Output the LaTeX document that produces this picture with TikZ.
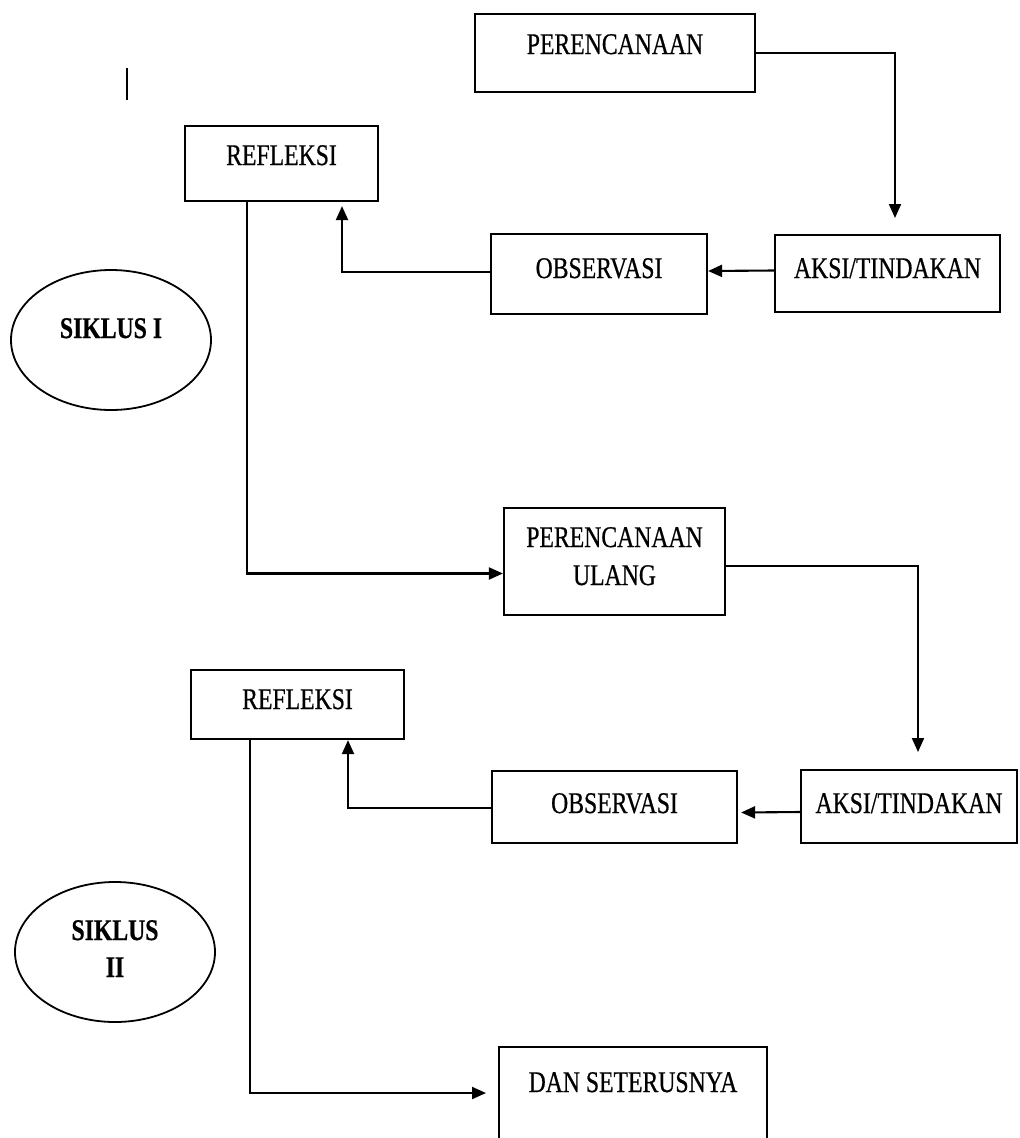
\documentclass[tikz,border=0pt]{standalone}
\usepackage{fontspec}
\setmainfont{Liberation Serif}
\newfontfamily\condfont[FakeStretch=0.79,FakeBold=0.6]{Liberation Serif}
\usetikzlibrary{arrows.meta,shapes.geometric,calc}
\begin{document}
\begin{tikzpicture}[x=1pt,y=-1pt,
  box/.style={draw, line width=2.2pt, rectangle, inner sep=0pt},
  lbl/.style={font=\condfont\fontsize{30}{34}\selectfont, text height=20pt, text depth=0pt, inner sep=0pt},
  blbl/.style={lbl, font=\condfont\bfseries\fontsize{30}{34}\selectfont},
  conn/.style={line width=2.1pt, -{Triangle[length=14pt,width=12pt]}},
  oval/.style={draw, ellipse, line width=1.8pt, minimum width=200pt, minimum height=140pt, inner sep=0pt}]
\useasboundingbox (0,0) rectangle (1020,1138);
\fill[white] (0,0) rectangle (1020,1138);

% stray mark
\draw[line width=2pt] (127,68) -- (127,100);

% boxes
\node[box, minimum width=280pt, minimum height=78pt] (p1) at (615,53) {};
\node[box, minimum width=193pt, minimum height=75pt] (r1) at (281.5,163.5) {};
\node[box, minimum width=216pt, minimum height=80pt] (o1) at (599,274) {};
\node[box, minimum width=225pt, minimum height=77pt] (a1) at (887.5,273.5) {};
\node[box, minimum width=221pt, minimum height=107pt] (pu) at (614.5,561.5) {};
\node[box, minimum width=213pt, minimum height=69pt] (r2) at (297.5,704.5) {};
\node[box, minimum width=245pt, minimum height=72pt] (o2) at (614.5,807) {};
\node[box, minimum width=216pt, minimum height=73pt] (a2) at (909,806.5) {};
\node[box, minimum width=268pt, minimum height=103pt] (d) at (633,1098.5) {};
\node[oval] (e1) at (111,340) {};
\node[oval] (e2) at (115,952) {};

% texts
\node[lbl] (p1t) at (615,44) {PERENCANAAN};
\node[lbl] (r1t) at (281.5,155) {REFLEKSI};
\node[lbl] (o1t) at (599,268) {OBSERVASI};
\node[lbl] (a1t) at (887.5,268) {AKSI/TINDAKAN};
\node[lbl] (put1) at (614.5,537) {PERENCANAAN};
\node[lbl] (put2) at (614.5,575) {ULANG};
\node[lbl] (r2t) at (297.5,699) {REFLEKSI};
\node[lbl] (o2t) at (614.5,803) {OBSERVASI};
\node[lbl] (a2t) at (909,803) {AKSI/TINDAKAN};
\node[lbl] (dt) at (633,1082) {DAN SETERUSNYA};
\node[blbl] (e1t) at (111,328) {SIKLUS I};
\node[blbl] (e2t1) at (115,930) {SIKLUS};
\node[blbl] (e2t2) at (115,967) {II};

% connectors
\coordinate (t1) at (895,218);
\draw[conn] (p1.east) -| (t1);
\draw[conn] ($(a1.west)+(0,-3)$) -- ($(o1.east)+(0,-3)$);
\draw[conn] ($(o1.west)+(0,-2)$) -| ($(r1.south)+(60.5,4)$);
\draw[conn] ($(r1.south)+(-34.5,0)$) |- ($(pu.west)+(0,12)$);
\coordinate (t5) at (918,752);
\draw[conn] ($(pu.east)+(0,4.5)$) -| (t5);
\draw[conn] ($(a2.west)+(0,5.5)$) -- ($(o2.east)+(3,5.5)$);
\draw[conn] ($(o2.west)+(0,1)$) -| ($(r2.south)+(50.5,0)$);
\coordinate (t8) at (486,1093);
\draw[conn] ($(r2.south)+(-47.5,0)$) |- (t8);
\end{tikzpicture}
\end{document}
